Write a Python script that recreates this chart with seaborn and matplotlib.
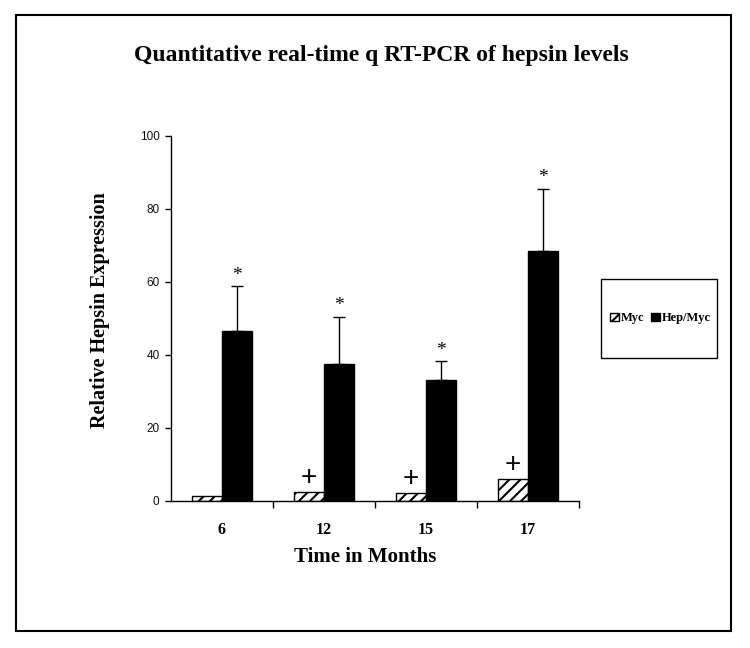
import pandas as pd
import matplotlib
matplotlib.use('Agg')
import matplotlib.pyplot as plt
from matplotlib.patches import Rectangle, Patch
import seaborn as sns

months = ['6', '12', '15', '17']
groups = ['Myc', 'Hep/Myc']
myc = [1.3, 2.4, 2.1, 6.0]
hep_myc = [46.7, 37.4, 33.2, 68.4]
hep_myc_err = [12.1, 13.1, 5.2, 17.2]

df = pd.DataFrame({
    'month': months * 2,
    'group': [groups[0]] * 4 + [groups[1]] * 4,
    'value': myc + hep_myc,
})

sns.set_style('ticks')
plt.rcParams['hatch.linewidth'] = 1.5
plt.rcParams['hatch.color'] = 'black'
plt.rcParams['text.color'] = 'black'
plt.rcParams['xtick.color'] = 'black'
plt.rcParams['ytick.color'] = 'black'

fig = plt.figure(figsize=(7.5, 6.48), dpi=100)
ax = fig.add_axes([0.2276, 0.2269, 0.5444, 0.5633])

sns.barplot(data=df, x='month', y='value', hue='group', hue_order=groups,
            order=months, palette=['white', 'black'], width=0.585, gap=0,
            edgecolor='black', linewidth=1, errorbar=None, legend=False, ax=ax)

for bar in ax.containers[0]:
    bar.set_hatch('///')

# upper error bars for Hep/Myc
hep_bars = ax.containers[1]
xs = [b.get_x() + b.get_width() / 2 for b in hep_bars]
ax.errorbar(xs, hep_myc, yerr=[[0] * 4, hep_myc_err], fmt='none',
            ecolor='black', elinewidth=1, capsize=4, capthick=1)
for x, v, e in zip(xs, hep_myc, hep_myc_err):
    ax.text(x, v + e + 0.6, '*', ha='center', va='bottom', fontsize=14,
            family='Liberation Serif', color='black')

# plus signs over Myc bars (not the first)
myc_bars = ax.containers[0]
for b, v in list(zip(myc_bars, myc))[1:]:
    ax.text(b.get_x() + b.get_width() / 2, v + 0.3, '+', ha='center',
            va='bottom', fontsize=20, family='Liberation Sans', color='black')

ax.set_ylim(0, 100)
ax.set_xlim(-0.5, 3.5)
ax.set_yticks([0, 20, 40, 60, 80, 100])
ax.set_xticks(range(4))
ax.set_xticks([0.5, 1.5, 2.5, 3.5], minor=True)
ax.tick_params(axis='x', which='major', length=0, pad=15)
ax.tick_params(axis='x', which='minor', length=5, width=1, direction='out', color='black')
ax.tick_params(axis='y', length=4, width=1, direction='out', color='black', pad=4)
for lab in ax.get_xticklabels():
    lab.set_family('Liberation Serif')
    lab.set_fontweight('bold')
    lab.set_fontsize(11.5)
    lab.set_color('black')
for lab in ax.get_yticklabels():
    lab.set_family('Liberation Sans')
    lab.set_fontsize(8.5)
    lab.set_color('#111111')
ax.set_xlabel('')
ax.set_ylabel('')
sns.despine(ax=ax)
for s in ['left', 'bottom']:
    ax.spines[s].set_color('black')
    ax.spines[s].set_linewidth(1)

fig.text(0.5087, 0.915, 'Quantitative real-time q RT-PCR of hepsin levels',
         ha='center', va='center', fontsize=17, fontweight='bold',
         family='Liberation Serif', color='black')
fig.text(0.133, 0.521, 'Relative Hepsin Expression', rotation=90,
         ha='center', va='center', fontsize=14.5, fontweight='bold',
         family='Liberation Serif', color='black')
fig.text(0.487, 0.141, 'Time in Months', ha='center', va='center',
         fontsize=15, fontweight='bold', family='Liberation Serif', color='black')

# legend box
fig.patches.append(Rectangle((0.801, 0.4475), 0.155, 0.122, transform=fig.transFigure,
                             fill=False, edgecolor='black', linewidth=1))
handles = [Patch(facecolor='white', edgecolor='black', hatch='///', label='Myc'),
           Patch(facecolor='black', edgecolor='black', label='Hep/Myc')]
fig.legend(handles=handles, loc='center', bbox_to_anchor=(0.8805, 0.5085),
           ncol=2, frameon=False, handlelength=0.7, handleheight=0.7,
           handletextpad=0.2, columnspacing=0.5, labelcolor='black',
           prop={'family': 'Liberation Serif', 'weight': 'bold', 'size': 9})

# outer border
fig.patches.append(Rectangle((0.0213, 0.0262), 0.954, 0.9506, transform=fig.transFigure,
                             fill=False, edgecolor='black', linewidth=1.5))

fig.savefig('out.png', dpi=100, facecolor='white')
